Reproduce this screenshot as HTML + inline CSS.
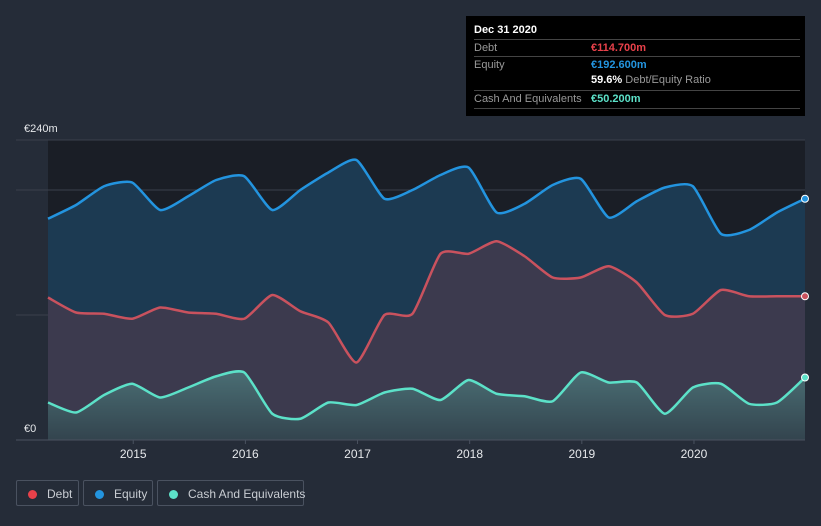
<!DOCTYPE html>
<html><head><meta charset="utf-8"><style>
body{margin:0;background:#252c38;font-family:"Liberation Sans",sans-serif;}
#wrap{position:relative;width:821px;height:526px;overflow:hidden;background:#252c38}
.tip{position:absolute;left:466px;top:16px;width:339px;height:100px;background:#000;color:#fff;font-size:11px}
.row{position:absolute;left:8px;width:326px;border-top:1px solid #444;height:17px;line-height:17px}
.row span{font-weight:bold}
.lg{position:absolute;top:480px;height:26px;border:1px solid #4a5260;border-radius:2px;color:#c8ccd2;font-size:12px;line-height:26px;box-sizing:border-box;white-space:nowrap}
.dot{display:inline-block;width:9px;height:9px;border-radius:50%;margin:0 10px 0 11px;vertical-align:-1px}
</style></head><body>
<div id="wrap">
<svg id="chart" width="821" height="526" style="position:absolute;left:0;top:0">
<defs>
<linearGradient id="gc" x1="0" y1="0" x2="0" y2="1"><stop offset="0" stop-color="#4a6e74"/><stop offset="1" stop-color="#33444e"/></linearGradient>
</defs>
<rect x="48" y="140" width="757" height="300" fill="#1a1e26"/>
<g id="grid"></g>
<g id="areas"></g>
<g id="lines"></g>
<g id="axis"></g>
</svg>
<div class="tip">
<div style="position:absolute;left:8px;top:8px;font-weight:bold">Dec 31 2020</div>
<div class="row" style="top:23px;color:#999">Debt<span style="position:absolute;left:117px;color:#e8414a">€114.700m</span></div>
<div class="row" style="top:40px;color:#999">Equity<span style="position:absolute;left:117px;color:#2394df">€192.600m</span></div>
<div style="position:absolute;left:125px;top:58px;color:#fff"><b>59.6%</b> <span style="color:#999">Debt/Equity Ratio</span></div>
<div class="row" style="top:74px;color:#999;border-bottom:1px solid #444">Cash And Equivalents<span style="position:absolute;left:117px;color:#5ce1c8">€50.200m</span></div>
</div>
<div class="lg" style="left:16px;width:63px"><span class="dot" style="background:#e8414a"></span>Debt</div>
<div class="lg" style="left:83px;width:70px"><span class="dot" style="background:#2394df"></span>Equity</div>
<div class="lg" style="left:157px;width:147px"><span class="dot" style="background:#5ce1c8"></span>Cash And Equivalents</div>
</div>
<script>
const years=["2015","2016","2017","2018","2019","2020"];
const yTicks=["€0","€240m"];
const equity=[177,188,203,206,184,195,208,211,184,200,214,224,193,200,212,218,182,189,204,209,178,191,202,203,165,168,182,193];
const debt=[114,102,101,97,106,102,101,97,116,103,94,62,100,101,149,149,159,147,130,130,139,126,100,101,120,115,115,115];
const cash=[30,22,36,45,34,42,51,54,21,17,30,28,38,41,32,48,37,35,31,54,46,46,21,42,45,29,30,50];
const x0=2014.24,x1=2020.99;
const X=t=>48+(t-x0)/(x1-x0)*757;
const Y=v=>440-v*1.25;
const t=i=>x0+i*(x1-x0)/(equity.length-1);
const ns="http://www.w3.org/2000/svg";
function mk(tag,at,p){const e=document.createElementNS(ns,tag);for(const k in at)e.setAttribute(k,at[k]);p.appendChild(e);return e;}
function path(arr){const p=arr.map((v,i)=>[X(t(i)),Y(v)]);let d="M"+p[0];for(let i=0;i<p.length-1;i++){const a=p[i-1]||p[i],b=p[i],c=p[i+1],e=p[i+2]||c;const k=0.1;d+=` C${b[0]+(c[0]-a[0])*k},${b[1]+(c[1]-a[1])*k} ${c[0]-(e[0]-b[0])*k},${c[1]-(e[1]-b[1])*k} ${c[0]},${c[1]}`;}return d;}
const grid=document.getElementById('grid');
[240,200,100].forEach(v=>{const l=mk('line',{x1:16,x2:805,y1:Y(v),y2:Y(v),stroke:'#3a404c','stroke-width':1},grid);

});
const areas=document.getElementById('areas'),lines=document.getElementById('lines');
const series=[[equity,'#2394df','#1c3a52','equity'],[debt,'#c9525e','#3c3a4e','debt'],[cash,'#5ce1c8','url(#gc)','cash']];
series.forEach(([arr,col,fill,n])=>{
const a=mk('path',{d:path(arr)+` L805,440 L48,440 Z`,fill:fill},areas);


const l=mk('path',{d:path(arr),fill:'none',stroke:col,'stroke-width':2.5},lines);


const c=mk('circle',{cx:805,cy:Y(arr[arr.length-1]),r:3.5,fill:col,stroke:'#fff','stroke-width':1},lines);


});
const ax=document.getElementById('axis');
const al=mk('line',{x1:16,x2:805,y1:440,y2:440,stroke:'#4a5260','stroke-width':1},ax);


years.forEach(y=>{const x=X(+y);mk('line',{x1:x,x2:x,y1:440,y2:444,stroke:'#4a5260'},ax);
const tx=mk('text',{x:x,y:458,fill:'#e6e8eb','font-size':12,'text-anchor':'middle'},ax);tx.textContent=y;

});
[[0,432],[240,132]].forEach(([v,yy],i)=>{const tx=mk('text',{x:24,y:yy,fill:'#e6e8eb','font-size':11},ax);tx.textContent=yTicks[i];

});
</script>
</body></html>
